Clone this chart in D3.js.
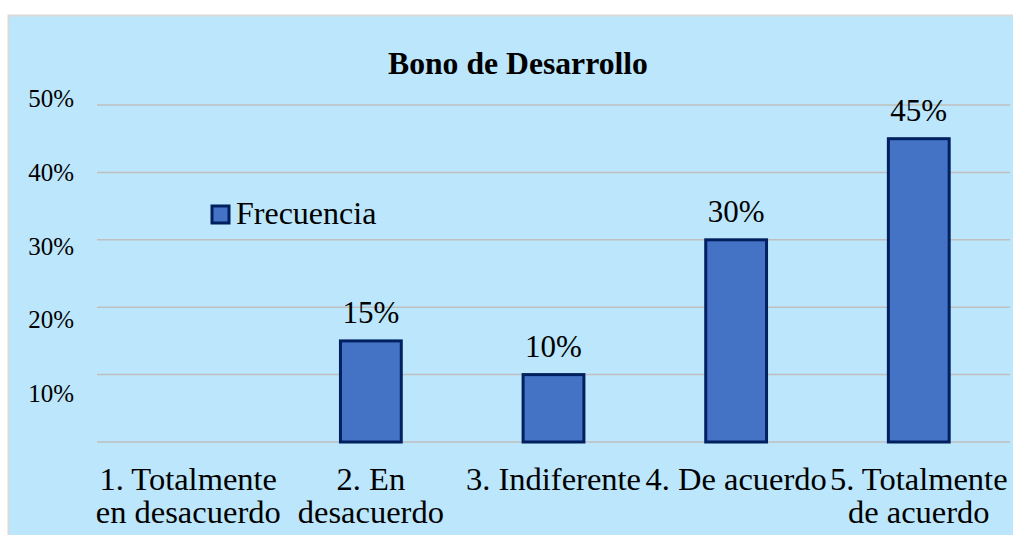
<!DOCTYPE html>
<html>
<head>
<meta charset="utf-8">
<script src="https://d3js.org/d3.v7.min.js"></script>
<style>
  body { margin: 0; background: #fff; }
</style>
</head>
<body>
<div id="wrapper"></div>
<script>
// data
var categories = ["1. Totalmente en desacuerdo", "2. En desacuerdo", "3. Indiferente", "4. De acuerdo", "5. Totalmente de acuerdo"];
var catLines = [["1. Totalmente", "en desacuerdo"], ["2. En", "desacuerdo"], ["3. Indiferente"], ["4. De acuerdo"], ["5. Totalmente", "de acuerdo"]];
var frecuencia = [0, 15, 10, 30, 45];
var yTicks = [0, 10, 20, 30, 40, 50];
var yTickLabels = [10, 20, 30, 40, 50];   // labels drawn (no 0%)

var W = 1013, H = 535;
var plotLeft = 97, plotRight = 1010, plotTop = 105, plotBottom = 442;
var FONT = "'Liberation Serif', 'Times New Roman', serif";

var svg = d3.select("#wrapper").append("svg")
  .attr("width", W).attr("height", H)
  .style("font-family", FONT);

// chart area
svg.append("rect")
  .attr("x", 8.5).attr("y", 15.5)
  .attr("width", W).attr("height", H)
  .attr("fill", "#bbe6fb")
  .attr("stroke", "#d9d9d9").attr("stroke-width", 2);

var x = d3.scaleBand().domain(categories).range([plotLeft, plotRight]).paddingInner(0.667).paddingOuter(0.333);
var y = d3.scaleLinear().domain([0, 50]).range([plotBottom, plotTop]);
// tick labels sit on their own spacing in the original
var yLab = d3.scaleLinear().domain([10, 50]).range([402, 107]);

// gridlines
svg.append("g").selectAll("line").data(yTicks).join("line")
  .attr("x1", plotLeft).attr("x2", plotRight)
  .attr("y1", function(d){ return y(d); }).attr("y2", function(d){ return y(d); })
  .attr("stroke", "#bfbfbf").attr("stroke-width", 1.5);

// y labels
svg.append("g").selectAll("text").data(yTickLabels).join("text")
  .attr("x", 74).attr("y", function(d){ return yLab(d); })
  .attr("text-anchor", "end")
  .style("font-family", FONT).style("font-size", "25px")
  .text(function(d){ return d + "%"; });

// bars
var bars = categories.map(function(c, i){ return {cat: c, v: frecuencia[i], lines: catLines[i]}; });
svg.append("g").selectAll("rect").data(bars.filter(function(d){ return d.v > 0; })).join("rect")
  .attr("x", function(d){ return x(d.cat); })
  .attr("y", function(d){ return y(d.v); })
  .attr("width", x.bandwidth())
  .attr("height", function(d){ return y(0) - y(d.v); })
  .attr("fill", "#4472c4")
  .attr("stroke", "#002060").attr("stroke-width", 3);

// value labels
svg.append("g").selectAll("text").data(bars.filter(function(d){ return d.v > 0; })).join("text")
  .attr("x", function(d){ return x(d.cat) + x.bandwidth()/2; })
  .attr("y", function(d){ return y(d.v) - 18; })
  .attr("text-anchor", "middle")
  .style("font-family", FONT).style("font-size", "31px")
  .text(function(d){ return d.v + "%"; });

// category labels
var cl = svg.append("g").selectAll("text").data(bars).join("text")
  .attr("text-anchor", "middle")
  .style("font-family", FONT).style("font-size", "32.5px");
cl.each(function(d){
  var t = d3.select(this);
  d.lines.forEach(function(l, k){
    t.append("tspan")
      .attr("x", x(d.cat) + x.bandwidth()/2)
      .attr("y", 490 + k*33)
      .text(l);
  });
});

// title
svg.append("text")
  .attr("x", 518).attr("y", 74)
  .attr("text-anchor", "middle")
  .style("font-family", FONT).style("font-size", "31.7px").style("font-weight", "bold")
  .text("Bono de Desarrollo");

// legend
svg.append("rect")
  .attr("x", 212).attr("y", 206).attr("width", 17).attr("height", 17)
  .attr("fill", "#4472c4").attr("stroke", "#002060").attr("stroke-width", 3);
svg.append("text")
  .attr("x", 236).attr("y", 224)
  .style("font-family", FONT).style("font-size", "32px")
  .text("Frecuencia");
</script>
</body>
</html>
